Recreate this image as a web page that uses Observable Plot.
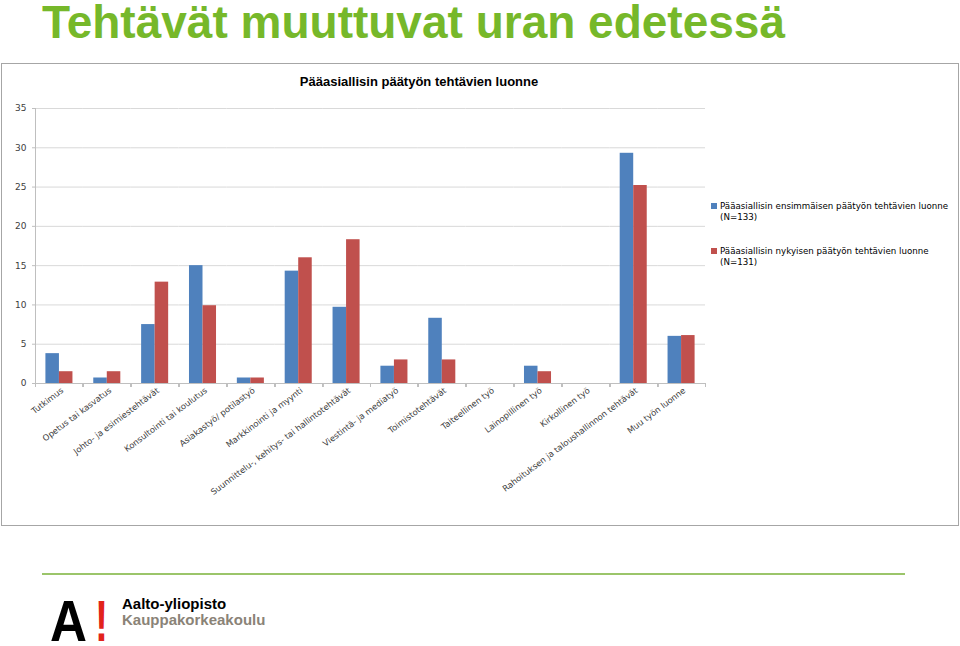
<!DOCTYPE html>
<html><head><meta charset="utf-8">
<script src="https://cdn.jsdelivr.net/npm/d3@7"></script>
<script src="https://cdn.jsdelivr.net/npm/@observablehq/plot@0.6"></script>
<style>
body{margin:0;width:960px;height:646px;position:relative;background:#fff;overflow:hidden;font-family:"Liberation Sans",Arial,sans-serif}
#box{position:absolute;left:1px;top:63px;width:956px;height:461px;border:1px solid #a6a6a6;background:#fff}
#chart{position:absolute;left:1px;top:63px}
#chart svg{overflow:visible}
#deco{position:absolute;left:0;top:0;pointer-events:none}
</style>
</head><body>
<div id="box"></div>
<div id="chart"></div>
<svg id="deco" width="960" height="646" font-family="Liberation Sans, Arial, sans-serif">
  <text x="42" y="38" font-size="46" font-weight="bold" fill="#76b82a">Tehtävät muuttuvat uran edetessä</text>
  <text x="419" y="86" font-size="13" font-weight="bold" text-anchor="middle" fill="#000">Pääasiallisin päätyön tehtävien luonne</text>
  <g id="legend" font-family="DejaVu Sans, sans-serif" font-size="8.7" fill="#000"></g>
  <rect x="42" y="573" width="863" height="2" fill="#9bc56a"></rect>
  <text x="50" y="641" font-size="58" font-weight="bold" fill="#000" textLength="37" lengthAdjust="spacingAndGlyphs">A</text>
  <text x="95" y="641" font-size="58" font-weight="bold" fill="#e2231a" textLength="13" lengthAdjust="spacingAndGlyphs">!</text>
  <text x="122" y="609" font-size="15" font-weight="bold" fill="#000">Aalto-yliopisto</text>
  <text x="122" y="625" font-size="15" font-weight="bold" fill="#8a8377">Kauppakorkeakoulu</text>
</svg>
<script>
const categories = [
  "Tutkimus",
  "Opetus tai kasvatus",
  "Johto- ja esimiestehtävät",
  "Konsultointi tai koulutus",
  "Asiakastyö/ potilastyö",
  "Markkinointi ja myynti",
  "Suunnittelu-, kehitys- tai hallintotehtävät",
  "Viestintä- ja mediatyö",
  "Toimistotehtävät",
  "Taiteellinen työ",
  "Lainopillinen työ",
  "Kirkollinen työ",
  "Rahoituksen ja taloushallinnon tehtävät",
  "Muu työn luonne"
];
const series = [
  "Pääasiallisin ensimmäisen päätyön tehtävien luonne (N=133)",
  "Pääasiallisin nykyisen päätyön tehtävien luonne (N=131)"
];
const legendLines = [
  ["Pääasiallisin ensimmäisen päätyön tehtävien luonne", "(N=133)"],
  ["Pääasiallisin nykyisen päätyön tehtävien luonne", "(N=131)"]
];
const firstJob   = [3.8, 0.7, 7.5, 15.0, 0.7, 14.3, 9.7, 2.2, 8.3, 0, 2.2, 0, 29.3, 6.0];
const currentJob = [1.5, 1.5, 12.9, 9.9, 0.7, 16.0, 18.3, 3.0, 3.0, 0, 1.5, 0, 25.2, 6.1];
const yTicks = [0, 5, 10, 15, 20, 25, 30, 35];
const colors = ["#4f81bd", "#c0504d"];

const table = categories.flatMap((c, i) => [
  {cat: c, s: series[0], v: firstJob[i]},
  {cat: c, s: series[1], v: currentJob[i]}
]);

const W = 958, H = 463, ml = 34, mr = 254, mt = 45, mb = 143;
const halfStep = (W - ml - mr) / categories.length / 2;
const axisGray = "#bfbfbf";

const chart = Plot.plot({
  width: W, height: H,
  marginLeft: ml, marginRight: mr, marginTop: mt, marginBottom: mb,
  style: {fontFamily: "DejaVu Sans, sans-serif", fontSize: "9px", color: "#404040", background: "transparent", overflow: "visible"},
  fx: {domain: categories, padding: 0, round: false, label: null},
  x: {domain: series, paddingInner: 0, paddingOuter: 0.77, round: false, axis: null},
  y: {domain: [0, 35]},
  color: {domain: series, range: colors},
  marks: [
    Plot.gridY(yTicks, {stroke: "#d9d9d9", strokeOpacity: 1}),
    Plot.axisY(yTicks, {tickSize: 3, tickPadding: 6, stroke: axisGray, fill: "#404040", label: null, fontSize: 9}),
    Plot.frame({anchor: "left", facetAnchor: "left", stroke: axisGray}),
    Plot.barY(table, {fx: "cat", x: "s", y: "v", fill: "s"}),
    Plot.ruleY([0], {stroke: axisGray}),
    Plot.axisFx({anchor: "bottom", tickSize: 0, tickPadding: 6, tickRotate: -37, dx: 3, label: null, fontSize: 8.4, fill: "#404040"}),
    Plot.axisFx(categories, {anchor: "bottom", tickSize: 4, fill: "none", dx: -halfStep, label: null, stroke: axisGray}),
    Plot.axisFx([categories[categories.length - 1]], {anchor: "bottom", tickSize: 4, fill: "none", dx: halfStep, label: null, stroke: axisGray})
  ]
});
document.getElementById("chart").appendChild(chart);

// legend
const lg = d3.select("#legend");
const legendY = [209, 254];
legendLines.forEach((lines, i) => {
  lg.append("rect").attr("x", 711).attr("y", legendY[i] - 6).attr("width", 6).attr("height", 6).attr("fill", colors[i]);
  lines.forEach((t, j) => {
    lg.append("text").attr("x", 720).attr("y", legendY[i] + j * 10.5).text(t);
  });
});
</script>
</body></html>
